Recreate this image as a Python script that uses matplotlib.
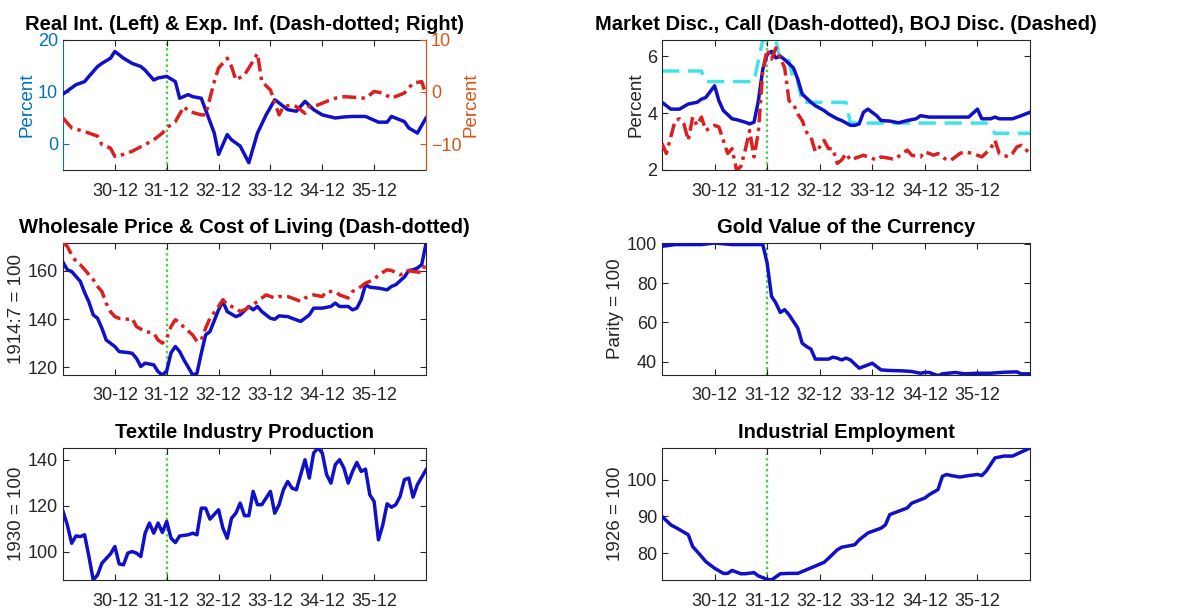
import matplotlib
matplotlib.use('Agg')
import matplotlib.pyplot as plt

plt.rcParams['font.family'] = ['Liberation Sans', 'DejaVu Sans']

# x = months after Dec 1929 (0 = 29-12, 84 = 36-12)
tick_pos = [12, 24, 36, 48, 60, 72]
tick_lab = ['30-12', '31-12', '32-12', '33-12', '34-12', '35-12']
gold_exit = 24  # Dec 1931

# real interest rate (left axis)
real_m = [0, 3, 5, 6, 8, 9, 11, 12, 14, 16, 18, 19, 21, 22, 24, 26, 27, 29, 30, 32, 35, 36, 38, 39,
          41, 43, 45, 47, 49, 50, 52, 54, 56, 58, 60, 63, 65, 67, 70, 73, 75, 76, 79, 80, 82, 84]
real_v = [9.6, 11.4, 12.0, 13.0, 14.9, 15.5, 16.5, 17.8, 16.5, 15.5, 14.9, 14.2, 12.3, 12.7, 13.0,
          12.0, 8.8, 9.5, 9.1, 8.8, 2.1, -2.0, 1.8, 0.8, -0.4, -3.6, 2.1, 5.6, 8.5, 7.9, 6.6, 6.3,
          8.2, 6.6, 5.6, 5.0, 5.2, 5.3, 5.3, 4.2, 4.2, 5.3, 4.3, 3.1, 2.1, 5.0]
# expected inflation (right axis)
expinf_m = [0, 2, 5, 8, 9, 11, 12, 14, 16, 19, 21, 23, 24, 26, 28, 29, 32, 33, 35, 36, 38, 39, 40,
            42, 43, 45, 46, 48, 50, 51, 53, 54, 56, 57, 59, 61, 63, 65, 67, 70, 72, 74, 76, 79,
            81, 83, 84]
expinf_v = [-5.0, -6.9, -7.6, -8.5, -10.1, -10.8, -12.4, -12.0, -11.4, -10.1, -9.2, -7.9, -6.9,
            -5.7, -2.8, -3.7, -4.4, -4.4, 2.0, 4.6, 6.5, 4.9, 2.3, 3.3, 4.6, 7.4, 2.0, 0.4, -4.4,
            -2.8, -2.5, -2.8, -4.1, -2.8, -2.5, -1.8, -1.2, -0.9, -1.0, -1.2, 0.1, -0.2, -1.2,
            -0.2, 1.7, 2.0, -0.5]

# market discount rate
mkt_m = [0, 2, 4, 6, 8, 9, 10, 12, 13, 14, 16, 17, 19, 20, 21, 22, 23, 24, 25, 26, 27, 28, 30, 31,
         32, 34, 35, 37, 38, 40, 41, 43, 44, 45, 46, 47, 49, 50, 52, 54, 56, 58, 59, 61, 64, 67,
         70, 72, 73, 75, 76, 77, 80, 82, 84]
mkt_v = [4.38, 4.14, 4.14, 4.32, 4.38, 4.49, 4.55, 4.96, 4.43, 4.09, 3.80, 3.77, 3.68, 3.62, 3.68,
         4.43, 5.54, 6.06, 6.17, 5.94, 6.00, 5.88, 5.59, 5.19, 4.67, 4.38, 4.26, 4.09, 3.97, 3.80,
         3.74, 3.57, 3.57, 3.62, 4.03, 4.14, 3.91, 3.74, 3.72, 3.66, 3.74, 3.80, 3.91, 3.86, 3.86,
         3.86, 3.86, 4.14, 3.80, 3.80, 3.86, 3.80, 3.80, 3.91, 4.03]
# call rate
call_m = [0, 1, 3, 4, 5, 6, 7, 8, 9, 10, 12, 13, 14, 15, 16, 17, 18, 19, 20, 21, 22, 23, 24, 25,
          26, 27, 28, 29, 30, 31, 32, 33, 34, 35, 36, 37, 38, 39, 40, 41, 42, 43, 44, 46, 47, 49,
          50, 52, 53, 56, 57, 59, 60, 62, 63, 65, 66, 68, 69, 71, 73, 75, 76, 77, 79, 80, 81, 82, 84]
call_v = [2.93, 2.58, 3.74, 3.80, 3.62, 3.04, 3.86, 3.57, 3.86, 3.39, 3.57, 3.51, 3.04, 2.58,
          2.75, 2.00, 2.12, 2.70, 3.39, 2.46, 3.33, 5.50, 6.23, 5.90, 6.29, 5.94, 5.59, 4.43,
          4.32, 3.97, 3.74, 3.33, 3.16, 2.64, 2.81, 3.04, 2.75, 2.75, 2.23, 2.35, 2.58, 2.35,
          2.41, 2.52, 2.46, 2.35, 2.46, 2.41, 2.37, 2.70, 2.52, 2.46, 2.64, 2.52, 2.58, 2.35,
          2.35, 2.58, 2.64, 2.58, 2.46, 2.75, 3.04, 2.58, 2.46, 2.58, 2.81, 2.87, 2.58]
# BOJ discount rate
boj_m = [0, 9, 10, 21, 22, 23, 26, 27, 29, 30, 31, 32, 42, 43, 74, 76, 84]
boj_v = [5.48, 5.48, 5.11, 5.11, 5.84, 6.57, 6.57, 5.84, 5.84, 5.11, 5.11, 4.38, 4.38, 3.65, 3.65,
         3.29, 3.29]

# wholesale price index
wpi_m = [0, 1, 2, 4, 5, 6, 7, 8, 9, 10, 12, 13, 15, 16, 17, 18, 19, 21, 22, 23, 24, 25, 26, 27,
         28, 29, 30, 31, 32, 33, 34, 36, 37, 38, 40, 41, 43, 44, 45, 46, 48, 49, 50, 52, 53, 55,
         57, 58, 60, 62, 63, 64, 66, 67, 68, 69, 70, 71, 73, 75, 76, 77, 79, 80, 81, 82, 83, 84]
wpi_v = [163.5, 160.4, 159.7, 155.6, 151.0, 147.0, 141.7, 140.3, 136.2, 131.3, 128.6, 126.5,
         126.1, 125.8, 123.7, 120.3, 121.7, 121.0, 118.2, 116.8, 118.5, 126.0, 128.6, 126.5,
         123.0, 120.0, 116.8, 117.5, 125.8, 133.4, 134.8, 143.8, 147.3, 143.1, 141.0, 141.7,
         145.2, 143.8, 145.2, 143.1, 140.3, 139.9, 141.3, 141.0, 140.3, 139.0, 141.7, 144.5,
         144.5, 145.2, 146.6, 145.2, 145.2, 143.8, 144.5, 148.0, 154.2, 153.2, 152.8, 152.1,
         153.5, 154.2, 157.4, 160.1, 160.4, 161.1, 162.5, 171.2]
# cost of living
col_m = [0, 1, 2, 3, 4, 5, 7, 8, 9, 10, 11, 12, 13, 15, 16, 17, 19, 20, 21, 22, 23, 24, 25, 26,
         27, 28, 29, 30, 31, 32, 33, 34, 36, 37, 38, 40, 41, 42, 44, 46, 47, 49, 50, 52, 53, 55,
         56, 58, 60, 61, 63, 64, 66, 67, 69, 70, 72, 73, 75, 76, 78, 80, 81, 83, 84]
col_v = [171.5, 170.1, 166.6, 163.9, 162.5, 160.5, 156.3, 153.5, 151.4, 146.5, 143.0, 141.0,
         140.3, 139.9, 140.3, 136.9, 134.8, 134.5, 134.1, 131.3, 130.0, 132.0, 136.9, 139.7,
         138.5, 136.5, 135.0, 133.4, 130.7, 131.3, 136.2, 140.3, 145.2, 148.0, 145.9, 144.5,
         143.1, 143.8, 145.9, 148.7, 150.0, 148.7, 149.3, 149.3, 148.7, 147.3, 148.7, 150.0,
         149.3, 151.4, 151.4, 150.0, 148.7, 151.4, 153.5, 154.9, 156.3, 158.3, 160.4, 160.1,
         158.3, 160.1, 159.7, 159.3, 163.2]

# gold value of the yen
gold_m = [0, 3, 9, 12, 16, 22, 23, 24, 25, 26, 27, 28, 29, 31, 32, 33, 34, 35, 37, 38, 39, 40, 41,
          42, 43, 45, 46, 48, 49, 50, 52, 55, 57, 59, 60, 61, 63, 64, 67, 69, 72, 75, 78, 81, 82, 84]
gold_v = [98.8, 99.7, 99.7, 100.5, 99.7, 99.7, 99.7, 90.3, 73.3, 69.9, 65.1, 66.5, 63.9, 57.1,
          49.4, 47.7, 46.4, 41.3, 41.3, 41.3, 42.3, 41.8, 40.9, 41.8, 40.9, 36.7, 37.5, 39.2,
          37.5, 35.8, 35.5, 35.3, 35.0, 34.1, 34.5, 34.5, 32.9, 33.8, 34.5, 33.8, 34.1, 34.1,
          34.6, 34.8, 33.8, 33.8]

# textile production
tex_m = [0, 1, 2, 3, 4, 5, 6, 7, 8, 9, 11, 12, 13, 14, 15, 16, 17, 18, 19, 20, 21, 22, 23, 24, 25,
         26, 27, 29, 30, 31, 32, 33, 34, 36, 37, 38, 39, 40, 41, 42, 43, 44, 45, 46, 48, 49, 50,
         51, 52, 53, 54, 56, 57, 58, 59, 60, 61, 62, 63, 64, 65, 66, 67, 68, 69, 70, 71, 72, 73,
         74, 75, 76, 77, 78, 79, 80, 81, 82, 84]
tex_v = [117.5, 111.6, 103.6, 106.8, 106.5, 107.3, 97.8, 87.6, 89.8, 94.9, 99.0, 102.2, 94.6,
         94.2, 99.3, 100.0, 99.3, 97.8, 108.0, 112.4, 108.0, 112.4, 108.3, 113.1, 105.8, 103.9,
         106.8, 107.3, 108.0, 107.3, 118.9, 118.9, 114.1, 118.2, 110.2, 105.8, 114.5, 116.7,
         121.1, 115.6, 115.6, 126.2, 120.4, 120.4, 126.2, 116.7, 120.4, 126.9, 130.5, 127.6,
         126.9, 140.0, 132.0, 142.9, 145.1, 142.9, 133.5, 129.8, 137.8, 140.0, 136.4, 129.8,
         134.9, 138.8, 134.9, 135.9, 124.7, 121.8, 105.1, 111.6, 120.8, 119.3, 120.4, 124.0,
         131.3, 132.0, 123.7, 129.1, 135.6]

# industrial employment
emp_m = [0, 2, 4, 6, 7, 9, 10, 12, 14, 15, 16, 18, 19, 21, 22, 24, 25, 27, 29, 31, 33, 35, 37, 38,
         40, 41, 44, 45, 47, 50, 51, 52, 54, 56, 57, 60, 61, 63, 64, 65, 66, 68, 70, 72, 73, 74,
         76, 78, 80, 82, 84]
emp_v = [90.0, 87.7, 86.4, 85.0, 81.8, 79.1, 77.7, 75.9, 74.5, 74.5, 75.3, 74.4, 74.4, 74.7, 73.8,
         72.9, 72.7, 74.4, 74.5, 74.5, 75.5, 76.5, 77.5, 78.6, 80.9, 81.6, 82.3, 83.6, 85.5, 86.8,
         87.7, 90.5, 91.4, 92.3, 93.6, 95.0, 95.9, 97.3, 100.9, 101.4, 101.1, 100.7, 101.1, 101.4,
         101.1, 102.3, 105.9, 106.4, 106.4, 107.5, 108.6]

BLUE = '#1010c8'
RED = '#dc1f1f'
CYAN = '#3fe3ea'
GREEN = '#3fd43f'
GRAY = '#262626'
AXBLUE = '#0072bd'
AXORANGE = '#d95319'

fig = plt.figure(figsize=(11.81, 6.08), dpi=100)
W, H = 1181, 608


def make_ax(left, top, right, bottom):
    return fig.add_axes([left / W, 1 - bottom / H, (right - left) / W, (bottom - top) / H])


def style(ax, title, ylabel, ylim, yticks):
    ax.set_xlim(0, 84)
    ax.set_ylim(*ylim)
    ax.set_xticks(tick_pos)
    ax.set_xticklabels(tick_lab)
    ax.set_yticks(yticks)
    ax.tick_params(direction='in', length=4, width=0.8, colors=GRAY, labelsize=13,
                   top=True, right=True, pad=3.5)
    ax.tick_params(axis='x', pad=9)
    for s in ax.spines.values():
        s.set_color(GRAY)
        s.set_linewidth(0.8)
    ax.set_title(title, fontsize=14.5, fontweight='bold', pad=7)
    ax.set_ylabel(ylabel, fontsize=13.5, color=GRAY, labelpad=2)
    ax.axvline(gold_exit, color=GREEN, lw=1.7, ls=(0, (1, 1.3)), zorder=1)


lw = 2.5
dashdot = (0, (4, 1.5, 1, 1.5))
dashed = (0, (5, 2.5))

# panel 1
ax1 = make_ax(63, 40, 426, 170)
style(ax1, 'Real Int. (Left) & Exp. Inf. (Dash-dotted; Right)', 'Percent', (-5, 20), [0, 10, 20])
ax1.tick_params(axis='y', right=False, colors=AXBLUE)
ax1.yaxis.label.set_color(AXBLUE)
ax1.spines['left'].set_color(AXBLUE)
ax1.plot(real_m, real_v, color=BLUE, lw=lw, zorder=3)
ax1b = ax1.twinx()
ax1b.set_ylim(-15, 10)
ax1b.set_yticks([-10, 0, 10])
ax1b.tick_params(direction='in', length=4, width=0.8, colors=AXORANGE, labelsize=13, pad=3.5)
ax1b.spines['right'].set_color(AXORANGE)
ax1b.spines['left'].set_visible(False)
ax1b.spines['top'].set_visible(False)
ax1b.spines['bottom'].set_visible(False)
ax1b.set_ylabel('Percent', fontsize=13.5, color=AXORANGE, labelpad=1)
ax1b.plot(expinf_m, expinf_v, color=RED, lw=lw, ls=dashdot)

# panel 2
ax2 = make_ax(662, 40, 1030, 170)
style(ax2, 'Market Disc., Call (Dash-dotted), BOJ Disc. (Dashed)', 'Percent', (2, 6.57), [2, 4, 6])
ax2.plot(boj_m, boj_v, color=CYAN, lw=lw, ls=dashed, zorder=2)
ax2.plot(mkt_m, mkt_v, color=BLUE, lw=lw, zorder=3)
ax2.plot(call_m, call_v, color=RED, lw=lw, ls=dashdot, zorder=4)

# panel 3
ax3 = make_ax(63, 243, 426, 375)
style(ax3, 'Wholesale Price & Cost of Living (Dash-dotted)', '1914:7 = 100', (116.8, 171.5),
      [120, 140, 160])
ax3.plot(wpi_m, wpi_v, color=BLUE, lw=lw, zorder=3)
ax3.plot(col_m, col_v, color=RED, lw=lw, ls=dashdot, zorder=4)

# panel 4
ax4 = make_ax(662, 243, 1030, 375)
style(ax4, 'Gold Value of the Currency', 'Parity = 100', (33.2, 100.5), [40, 60, 80, 100])
ax4.plot(gold_m, gold_v, color=BLUE, lw=lw, zorder=3)

# panel 5
ax5 = make_ax(63, 448, 426, 580)
style(ax5, 'Textile Industry Production', '1930 = 100', (87.6, 145.1), [100, 120, 140])
ax5.plot(tex_m, tex_v, color=BLUE, lw=lw, zorder=3)

# panel 6
ax6 = make_ax(662, 448, 1030, 580)
style(ax6, 'Industrial Employment', '1926 = 100', (72.7, 108.6), [80, 90, 100])
ax6.plot(emp_m, emp_v, color=BLUE, lw=lw, zorder=3)

fig.savefig('out.png', dpi=100)
